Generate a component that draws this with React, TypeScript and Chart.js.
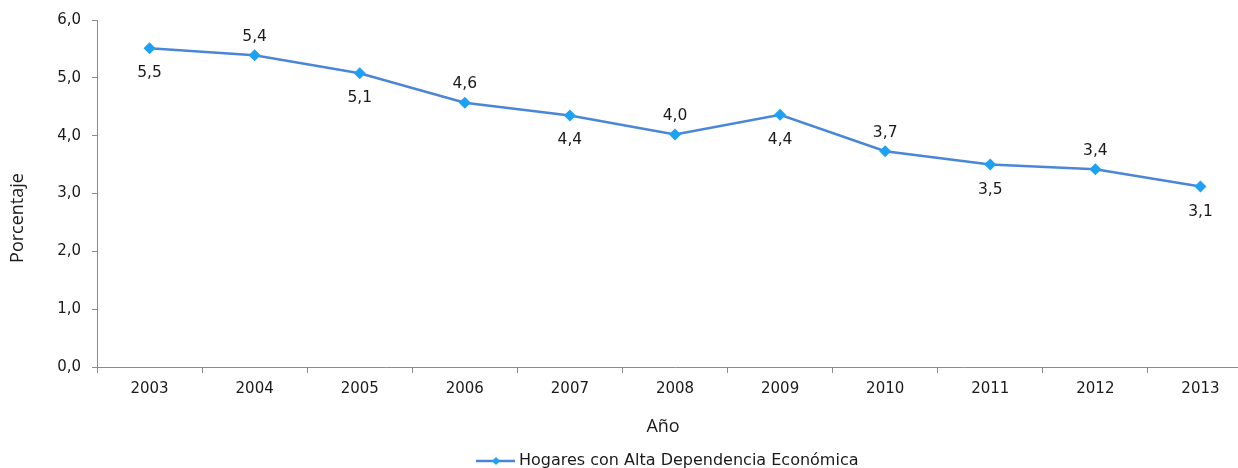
import React, { useEffect, useRef } from "react";
import { Chart, registerables } from "chart.js";

Chart.register(...registerables);

const categories = ["2003", "2004", "2005", "2006", "2007", "2008", "2009", "2010", "2011", "2012", "2013"];
const values = [5.51, 5.39, 5.08, 4.57, 4.35, 4.02, 4.36, 3.73, 3.5, 3.42, 3.12];
const valueLabels = ["5,5", "5,4", "5,1", "4,6", "4,4", "4,0", "4,4", "3,7", "3,5", "3,4", "3,1"];
const labelAbove = [false, true, false, true, false, true, false, true, false, true, false];
const seriesName = "Hogares con Alta Dependencia Económica";
const xTitle = "Año";
const yTitle = "Porcentaje";

const LINE = "#4a86d8";
const MARK = "#1da1f2";
const TEXT = "#1a1a1a";
const AXIS = "#8c8c8c";
const TICKFONT = "'DejaVu Sans', Verdana, sans-serif";
const TITLEFONT = "'Open Sans', sans-serif";

const extrasPlugin = {
  id: "extras",
  afterDatasetsDraw(chart: any) {
    const ctx = chart.ctx;
    const meta = chart.getDatasetMeta(0);
    ctx.save();
    ctx.fillStyle = TEXT;
    ctx.font = `15.5px ${TICKFONT}`;
    ctx.textAlign = "center";
    ctx.textBaseline = "middle";
    meta.data.forEach((pt: any, i: number) => {
      const dy = labelAbove[i] ? -18.5 : 25;
      ctx.fillText(valueLabels[i], pt.x, pt.y + dy);
    });
    // axis titles
    ctx.font = `18px ${TITLEFONT}`;
    ctx.fillText(xTitle, 663, 427);
    ctx.save();
    ctx.translate(18, 218);
    ctx.rotate(-Math.PI / 2);
    ctx.fillText(yTitle, 0, 0);
    ctx.restore();
    // legend
    ctx.strokeStyle = LINE;
    ctx.lineWidth = 2.5;
    ctx.beginPath();
    ctx.moveTo(476, 461);
    ctx.lineTo(515, 461);
    ctx.stroke();
    ctx.fillStyle = MARK;
    ctx.beginPath();
    ctx.moveTo(496, 457);
    ctx.lineTo(500, 461);
    ctx.lineTo(496, 465);
    ctx.lineTo(492, 461);
    ctx.closePath();
    ctx.fill();
    ctx.fillStyle = TEXT;
    ctx.font = `16px ${TICKFONT}`;
    ctx.textAlign = "left";
    ctx.fillText(seriesName, 519, 461);
    ctx.restore();
  },
};

export default function App() {
  const ref = useRef<HTMLCanvasElement>(null);
  useEffect(() => {
    const chart = new Chart(ref.current as HTMLCanvasElement, {
      type: "line",
      data: {
        labels: categories,
        datasets: [
          {
            label: seriesName,
            data: values,
            borderColor: LINE,
            borderWidth: 2.5,
            pointStyle: "rectRot",
            pointRadius: 6,
            pointBackgroundColor: MARK,
            pointBorderColor: MARK,
            pointBorderWidth: 0,
            tension: 0,
          },
        ],
      },
      options: {
        animation: false,
        responsive: false,
        maintainAspectRatio: false,
        layout: { padding: { top: 19, left: 0, right: 0, bottom: 0 } },
        plugins: { legend: { display: false }, tooltip: { enabled: false } },
        scales: {
          x: {
            type: "category",
            offset: true,
            grid: { offset: true, drawOnChartArea: false, drawTicks: true, tickLength: 6, color: AXIS },
            border: { color: AXIS, width: 1 },
            ticks: { color: TEXT, font: { family: TICKFONT, size: 15 }, padding: 7, maxRotation: 0 },
            afterFit(scale: any) {
              scale.height = 101;
            },
          },
          y: {
            min: 0,
            max: 6,
            grid: { drawOnChartArea: false, drawTicks: true, tickLength: 5, color: AXIS },
            border: { color: AXIS, width: 1 },
            ticks: {
              stepSize: 1,
              color: TEXT,
              padding: 11,
              font: { family: TICKFONT, size: 15 },
              callback: (v: any) => Number(v).toFixed(1).replace(".", ","),
            },
            afterFit(scale: any) {
              scale.width = 97;
            },
          },
        },
      },
      plugins: [extrasPlugin],
    });
    return () => chart.destroy();
  }, []);
  return (
    <div style={{ position: "fixed", left: 0, top: 0, width: 1238, height: 468, overflow: "hidden", background: "#fff" }}>
      <canvas ref={ref} width={1259} height={468} style={{ display: "block" }} />
    </div>
  );
}
